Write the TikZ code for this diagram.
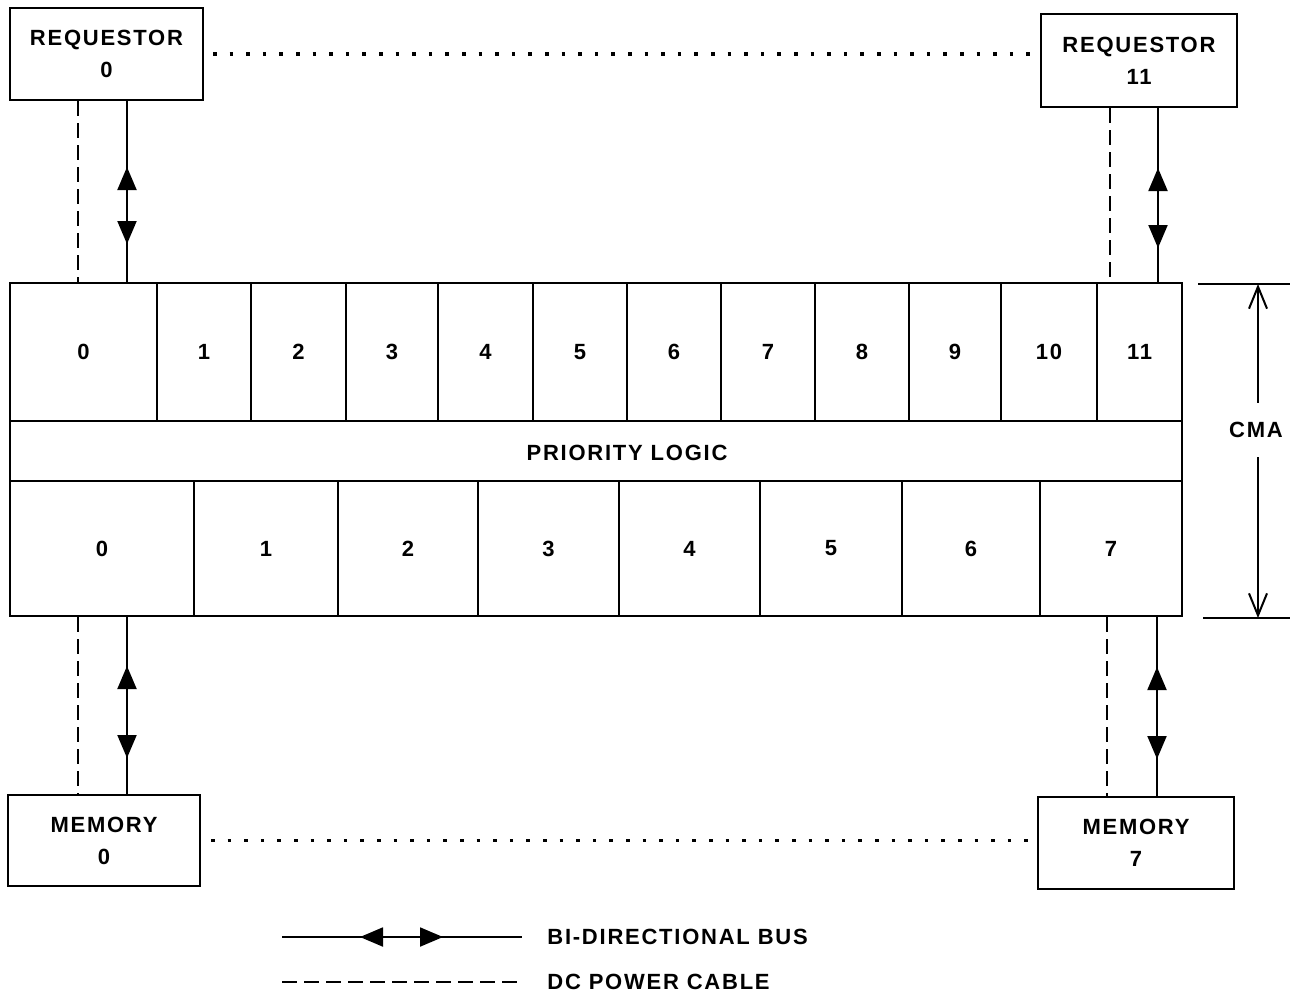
\documentclass[tikz,border=0pt]{standalone}
\usepackage{fontspec}
\setmainfont{Liberation Sans}[LetterSpace=8]
\usetikzlibrary{arrows.meta,decorations.markings}

\tikzset{
  bustip/.tip={Triangle[length=11.5pt,width=9.5pt]},
  box/.style={draw, line width=1pt, align=center, inner sep=0pt,
    font=\fontsize{11}{16}\selectfont\bfseries},
  cell/.style={draw, line width=1pt, inner sep=0pt,
    font=\fontsize{11}{12}\selectfont\bfseries},
  bus/.style 2 args={line width=1pt, postaction={decorate},
    decoration={markings,
      mark=at position #1 with {\arrowreversed{bustip}},
      mark=at position #2 with {\arrow{bustip}}}},
  power/.style={line width=1pt, dash pattern=on 7.5pt off 3.5pt},
  dots/.style={line width=1.8pt, dash pattern=on 1.8pt off 6.5pt},
  dim/.style={line width=1pt, -{Straight Barb[length=11pt,width=9pt]}},
  legtext/.style={anchor=west, inner sep=0pt, font=\fontsize{11}{12}\selectfont\bfseries}
}

\begin{document}
\begin{tikzpicture}[x=0.5pt, y=-0.5pt]
    \useasboundingbox (0,0) rectangle (1290,993);

    % requestors and memories
    \node[box, minimum width=96.5pt, minimum height=46pt] (req0) at (106.5,54) {REQUESTOR\\0};
    \node[box, minimum width=98pt, minimum height=46.5pt] (req11) at (1139,60.5) {REQUESTOR\\11};
    \node[box, minimum width=96pt, minimum height=45.5pt] (mem0) at (104,840.5) {MEMORY\\0};
    \node[box, minimum width=98pt, minimum height=46pt] (mem7) at (1136,843) {MEMORY\\7};

    % CMA: requestor ports, priority logic, memory ports
    \foreach \n/\l/\r in {0/10/157, 1/157/251, 2/251/346, 3/346/438, 4/438/533, 5/533/627,
                          6/627/721, 7/721/815, 8/815/909, 9/909/1001, 10/1001/1097, 11/1097/1182}
      \node[cell, minimum width={(\r-\l)*0.5pt}, minimum height=69pt] (t\n) at ({(\l+\r)/2},352) {\n};
    \node[cell, minimum width=586pt, minimum height=30pt,
          label={[cell, draw=none, xshift=15.5pt, yshift=-1pt]center:PRIORITY LOGIC}] (prio) at (596,451) {};
    \foreach \n/\l/\r in {0/10/194, 1/194/338, 2/338/478, 3/478/619,
                          4/619/760, 5/760/902, 6/902/1040, 7/1040/1182}
      \node[cell, minimum width={(\r-\l)*0.5pt}, minimum height=67.5pt] (b\n) at ({(\l+\r)/2},548.5) {\n};

    % bus and power positions
    \coordinate (rq0bus) at (127,0);
    \coordinate (rq0pwr) at (78,0);
    \coordinate (rq11bus) at (1158,0);
    \coordinate (rq11pwr) at (1110,0);
    \coordinate (m0bus) at (127,0);
    \coordinate (m0pwr) at (78,0);
    \coordinate (m7bus) at (1157,0);
    \coordinate (m7pwr) at (1107,0);

    % connections
    \draw[bus={33pt}{71.5pt}] (req0.south -| rq0bus) -- (t0.north -| rq0bus);
    \draw[power] (req0.south -| rq0pwr) -- (t0.north -| rq0pwr);
    \draw[bus={30pt}{70pt}] (req11.south -| rq11bus) -- (t11.north -| rq11bus);
    \draw[power] (req11.south -| rq11pwr) -- (t11.north -| rq11pwr);
    \draw[bus={24.5pt}{70.5pt}] (b0.south -| m0bus) -- (mem0.north -| m0bus);
    \draw[power] (b0.south -| m0pwr) -- (mem0.north -| m0pwr);
    \draw[bus={25pt}{71pt}] (b7.south -| m7bus) -- (mem7.north -| m7bus);
    \draw[power] (b7.south -| m7pwr) -- (mem7.north -| m7pwr);

    % dotted rows
    \draw[dots] ([xshift=4.5pt]req0.east) -- ([xshift=-3pt]req0.east -| req11.west);
    \draw[dots] ([xshift=5pt]mem0.east) -- ([xshift=-4pt]mem0.east -| mem7.west);

    % CMA dimension
    \node[inner sep=0pt, minimum height=27pt, font=\fontsize{11}{12}\selectfont\bfseries] (cma) at (1256,430) {CMA};
    \coordinate (dimtop) at (1258,284);
    \coordinate (dimbot) at (1258,618);
    \draw[line width=1pt] ([xshift=-30pt]dimtop) -- ([xshift=16pt]dimtop);
    \draw[line width=1pt] ([xshift=-27.5pt]dimbot) -- ([xshift=16pt]dimbot);
    \draw[dim] (cma.north -| dimtop) -- (dimtop);
    \draw[dim] (cma.south -| dimbot) -- (dimbot);

    % legend
    \node[legtext] (lbus) at (547,937) {BI-DIRECTIONAL BUS};
    \node[legtext] (lpwr) at (547,982) {DC POWER CABLE};
    \coordinate (legbus) at (282,937);
    \coordinate (legpwr) at (282,982);
    \draw[bus={39pt}{80.5pt}] (legbus) -- ([xshift=-12.5pt]lbus.west);
    \draw[power] (legpwr) -- ([xshift=-12.5pt]lpwr.west);
\end{tikzpicture}
\end{document}
